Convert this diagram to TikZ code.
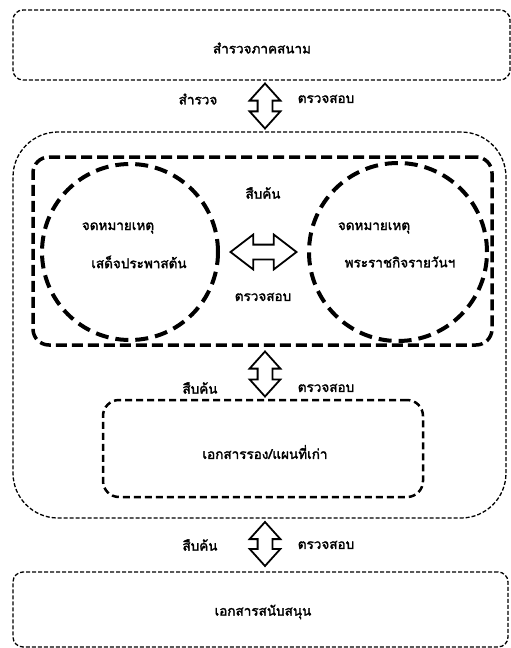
\documentclass[tikz,border=0pt]{standalone}
\usepackage{fontspec}
\setmainfont[Script=Thai,AutoFakeBold=2]{Loma}
\usetikzlibrary{shapes.arrows,calc}
\tikzset{
  thinbox/.style={draw, line width=1.3pt, dash pattern=on 4pt off 2pt},
  thickbox/.style={draw, line width=3.5pt, dash pattern=on 11pt off 5pt},
  circbox/.style={draw, circle, line width=4pt, dash pattern=on 13pt off 7pt, inner sep=0pt},
  midbox/.style={draw, line width=2.5pt, dash pattern=on 7pt off 4pt},
  darrow/.style={double arrow, draw, line width=1.8pt, fill=white, inner xsep=0pt, inner ysep=6.5pt,
    double arrow head extend=8pt, double arrow tip angle=84},
  lbl/.style={font=\bfseries\fontsize{13.5}{16}\selectfont, inner sep=0pt},
}
\begin{document}
\begin{tikzpicture}[x=1pt,y=-1pt]
\useasboundingbox (0,0) rectangle (511,648);
\fill[white] (0,0) rectangle (511,648);
% top box
\node[thinbox, rounded corners=10pt, minimum width=497pt, minimum height=70pt] (top) at (261.5,45) {};
\node[lbl] (toptxt) at (262,48) {สำรวจภาคสนาม};
% outer box
\node[thinbox, rounded corners=45pt, minimum width=493pt, minimum height=386pt] (outer) at (259.5,325) {};
% inner thick box
\node[thickbox, rounded corners=16pt, minimum width=459pt, minimum height=188pt] (inner) at (262.5,251) {};
% circles
\node[circbox, minimum size=176pt] (lc) at (130,252) {};
\node[circbox, minimum size=178pt] (rc) at (398,252) {};
\node[lbl] (lc1) at (118,228) {จดหมายเหตุ};
\node[lbl] (lc2) at (139,262) {เสด็จประพาสต้น};
\node[lbl] (rc1) at (374,228) {จดหมายเหตุ};
\node[lbl] (rc2) at (400,262) {พระราชกิจรายวันฯ};
\node[darrow, minimum height=66pt, double arrow head extend=10pt, double arrow tip angle=75] (ha) at ($(lc.east)!0.5!(rc.west)$) {};
\node[lbl] (s1) at (263,193) {สืบค้น};
\node[lbl] (t1) at (263,297) {ตรวจสอบ};
% middle box
\node[midbox, rounded corners=16pt, minimum width=320pt, minimum height=97pt] (mid) at (263,448.5) {};
\node[lbl] (midtxt) at (265,452) {เอกสารรอง/แผนที่เก่า};
% bottom box
\node[thinbox, rounded corners=10pt, minimum width=495pt, minimum height=75pt] (bot) at (260.5,609.5) {};
\node[lbl] (bottxt) at (263,612) {เอกสารสนับสนุน};
% vertical arrows
\node[darrow, rotate=90, minimum height=45pt] (va1) at (265,106) {};
\node[lbl] (a1l) at (198,99) {สำรวจ};
\node[lbl] (a1r) at (326,99) {ตรวจสอบ};
\node[darrow, rotate=90, minimum height=45pt] (va2) at (265,374) {};
\node[lbl] (a2l) at (200,388) {สืบค้น};
\node[lbl] (a2r) at (326,388) {ตรวจสอบ};
\node[darrow, rotate=90, minimum height=44pt] (va3) at (265,544) {};
\node[lbl] (a3l) at (200,545) {สืบค้น};
\node[lbl] (a3r) at (326,545) {ตรวจสอบ};
\end{tikzpicture}
\end{document}
